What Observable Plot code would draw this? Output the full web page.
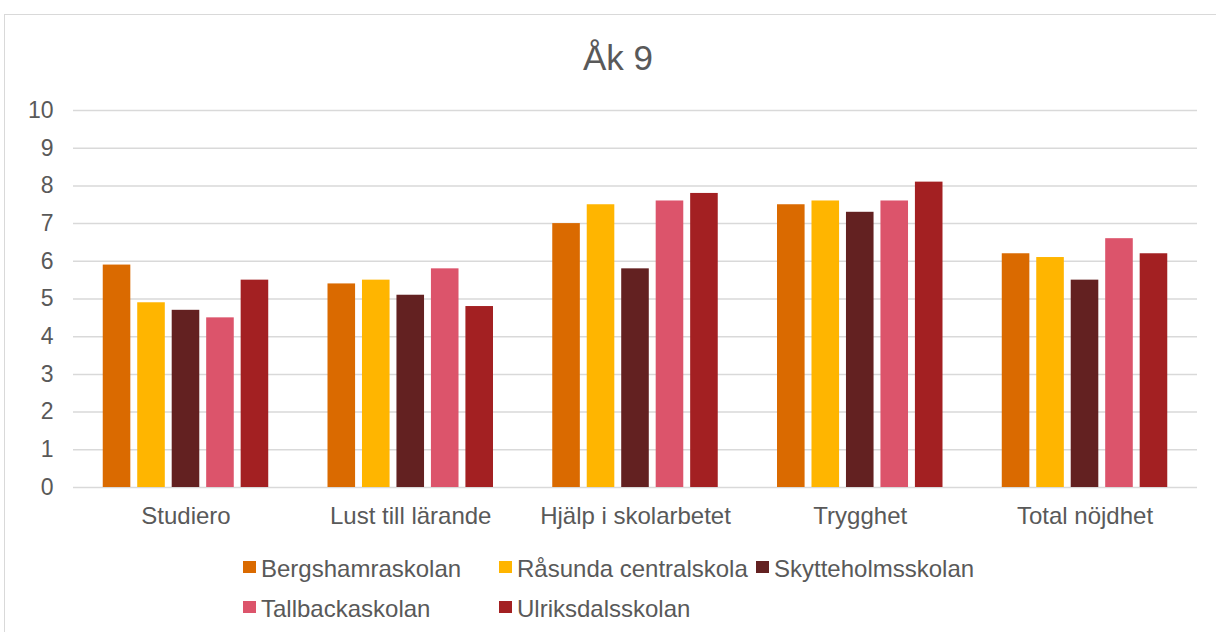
<!DOCTYPE html>
<html>
<head>
<meta charset="utf-8">
<script src="https://cdn.jsdelivr.net/npm/d3@7"></script>
<script src="https://cdn.jsdelivr.net/npm/@observablehq/plot@0.6"></script>
<style>
  html, body { margin: 0; padding: 0; background: #fff; }
  #wrap { position: relative; width: 1216px; height: 632px; overflow: hidden; font-family: "Liberation Sans", Arial, sans-serif; color: #595959; }
  #frame { position: absolute; left: 4px; top: 14px; width: 1400px; height: 800px; border: 1.5px solid #d9d9d9; box-sizing: border-box; }
  #title { position: absolute; left: 0; width: 1236px; top: 40px; text-align: center; font-size: 35px; line-height: 35px; }
  #grid, #chart { position: absolute; left: 0; top: 90px; }
  #legend { position: absolute; left: 243px; top: 549px; display: grid; grid-template-columns: 256px 257px 260px; font-size: 24px; line-height: 40px; }
  .item { display: flex; align-items: center; white-space: nowrap; }
  .sw { width: 13px; height: 12px; margin-right: 5px; position: relative; top: -2px; flex: none; }
</style>
</head>
<body>
<div id="wrap">
  <div id="frame"></div>
  <div id="title">Åk 9</div>
  <div id="grid"></div>
  <div id="chart"></div>
  <div id="legend"></div>
</div>
<script>
const categories = ["Studiero", "Lust till lärande", "Hjälp i skolarbetet", "Trygghet", "Total nöjdhet"];
const schools = ["Bergshamraskolan", "Råsunda centralskola", "Skytteholmsskolan", "Tallbackaskolan", "Ulriksdalsskolan"];
const colors = ["#DA6A00", "#FFB500", "#632121", "#DC546B", "#A32022"];
const bergshamraskolan = [5.9, 5.4, 7.0, 7.5, 6.2];
const rasundaCentralskola = [4.9, 5.5, 7.5, 7.6, 6.1];
const skytteholmsskolan = [4.7, 5.1, 5.8, 7.3, 5.5];
const tallbackaskolan = [4.5, 5.8, 7.6, 7.6, 6.6];
const ulriksdalsskolan = [5.5, 4.8, 7.8, 8.1, 6.2];
const yTicks = [0, 1, 2, 3, 4, 5, 6, 7, 8, 9, 10];

const series = [bergshamraskolan, rasundaCentralskola, skytteholmsskolan, tallbackaskolan, ulriksdalsskolan];
const data = categories.flatMap((c, i) => schools.map((s, j) => ({category: c, school: s, value: series[j][i]})));

const common = {
  width: 1216,
  height: 457,
  marginLeft: 73,
  marginRight: 19,
  marginTop: 20,
  marginBottom: 60
};
const baseStyle = {fontFamily: '"Liberation Sans", Arial, sans-serif', color: "#595959", background: "transparent", overflow: "visible"};

// Layer 1: gridlines and y-axis (unfaceted, spans the whole plot area)
const gridSvg = Plot.plot({
  ...common,
  style: {...baseStyle, fontSize: "23px"},
  x: {domain: [0, 1], axis: null},
  y: {domain: [0, 10], ticks: yTicks, tickSize: 0, tickPadding: 20, label: null},
  marks: [
    Plot.ruleY(yTicks, {stroke: "#d9d9d9", strokeWidth: 1.5})
  ]
});
document.getElementById("grid").appendChild(gridSvg);

// Layer 2: grouped bars, faceted by category
const svg = Plot.plot({
  ...common,
  style: {...baseStyle, fontSize: "24px"},
  fx: {domain: categories, paddingInner: 0.233, paddingOuter: 0.117, round: false, axis: "bottom", tickSize: 0, tickPadding: 19, label: null},
  x: {domain: schools, paddingInner: 0.2, paddingOuter: 0.1, round: false, axis: null},
  y: {domain: [0, 10], axis: null},
  color: {domain: schools, range: colors},
  marks: [
    Plot.barY(data, {fx: "category", x: "school", y: "value", fill: "school"})
  ]
});
document.getElementById("chart").appendChild(svg);

const legend = d3.select("#legend");
schools.forEach((s, i) => {
  const it = legend.append("div").attr("class", "item");
  it.append("span").attr("class", "sw").style("background", colors[i]);
  it.append("span").text(s);
});
</script>
</body>
</html>
